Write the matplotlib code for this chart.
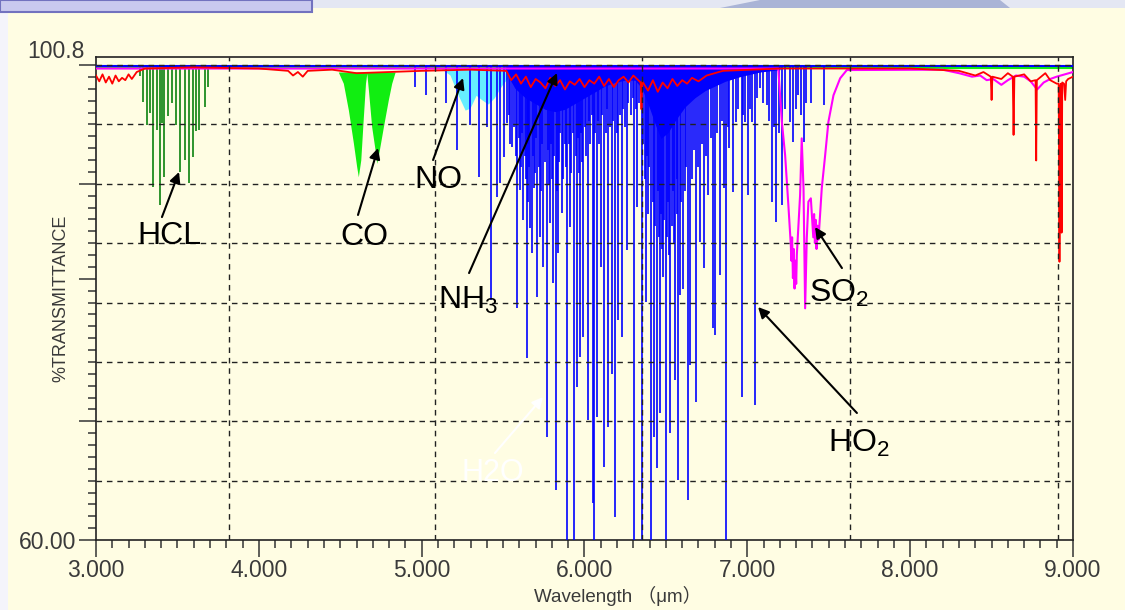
import numpy as np
import matplotlib
matplotlib.use("Agg")
import matplotlib.pyplot as plt
from matplotlib.patches import Rectangle, Polygon
from matplotlib.transforms import blended_transform_factory

plt.rcParams['mathtext.fontset'] = 'custom'
plt.rcParams['mathtext.rm'] = 'Liberation Sans'

# --- data (wavelength in um, %T) ---
hcl_wl = [3.270, 3.291, 3.315, 3.332, 3.352, 3.373, 3.393, 3.403, 3.418, 3.444,
          3.465, 3.491, 3.516, 3.547, 3.573, 3.598, 3.614, 3.635, 3.670, 3.690]
hcl_min = [99.9, 97.65, 95.65, 96.65, 90.35, 95.2, 88.8, 95.8, 91.2, 96.4,
           97.5, 95.65, 91.6, 92.6, 90.65, 92.9, 95.1, 95.2, 97.2, 98.9]

co_wl = [4.488, 4.519, 4.550, 4.581, 4.601, 4.611, 4.626, 4.642, 4.655, 4.663,
         4.673, 4.693, 4.714, 4.724, 4.740, 4.765, 4.795, 4.816, 4.837]
co_t = [100.2, 99.23, 96.93, 94.07, 92.06, 91.2, 92.64, 96.36, 99.23, 100.09,
        98.65, 95.5, 93.5, 92.35, 93.5, 95.5, 97.8, 99.23, 100.2]

no_wl = [5.119, 5.174, 5.224, 5.267, 5.297, 5.334, 5.371, 5.408, 5.445, 5.494, 5.543, 5.568]
no_t = [100.5, 99.94, 98.22, 96.93, 97.1, 98.2, 97.8, 97.45, 97.97, 99.08, 99.94, 100.37]

blue_env_wl = [5.512, 5.573, 5.635, 5.696, 5.757, 5.819, 5.880, 5.942, 6.003, 6.065,
               6.126, 6.187, 6.249, 6.310, 6.353, 6.402, 6.440, 6.470, 6.513, 6.556,
               6.617, 6.679, 6.741, 6.802, 6.864, 6.955, 7.078, 7.201]
blue_env_t = [100.3, 98.8, 98.0, 97.5, 97.0, 96.8, 97.0, 97.5, 98.0, 98.5,
              99.0, 99.3, 99.5, 99.5, 98.8, 97.0, 95.5, 94.5, 95.0, 96.0,
              97.2, 98.0, 98.6, 99.0, 99.4, 99.8, 100.2, 100.4]

# strong lines
blue_wl = [4.962, 5.025, 5.150, 5.215, 5.297, 5.353, 5.400, 5.424, 5.461, 5.481,
           5.506, 5.526, 5.553, 5.588, 5.604, 5.625, 5.645, 5.656, 5.666, 5.676,
           5.690, 5.711, 5.727, 5.748, 5.768, 5.789, 5.809, 5.826, 5.840, 5.864,
           5.895, 5.912, 5.936, 5.953, 5.973, 5.993, 6.020, 6.051, 6.059, 6.075,
           6.100, 6.120, 6.147, 6.167, 6.188, 6.208, 6.229, 6.259, 6.305, 6.321,
           6.352, 6.378, 6.410, 6.427, 6.444, 6.464, 6.484, 6.501, 6.526, 6.556,
           6.577, 6.587, 6.607, 6.638, 6.649, 6.686, 6.710, 6.735, 6.761, 6.792,
           6.802, 6.833, 6.857, 6.870, 6.890, 6.911, 6.931, 6.966, 6.987, 7.007,
           7.028, 7.048, 7.079, 7.120, 7.150, 7.177, 7.212, 7.263, 7.283, 7.314,
           7.345, 7.392, 7.468]
blue_min = [98.9, 98.2, 97.5, 93.5, 95.65, 91.2, 95.5, 80.6, 89.49, 90.66,
            92.9, 95.8, 93.8, 79.9, 90.06, 87.48, 75.6, 89.06, 86.8, 84.62,
            90.2, 80.9, 86.05, 83.47, 68.87, 87.2, 82.05, 64.3, 84.62, 88.06,
            60.0, 86.9, 60.0, 73.16, 75.74, 77.46, 70.3, 63.14, 60.0, 70.6,
            83.47, 66.3, 69.7, 74.3, 62.0, 78.9, 77.46, 84.9, 60.0, 88.6,
            60.0, 80.47, 60.0, 68.87, 66.2, 70.88, 82.6, 60.0, 69.2, 73.74,
            65.15, 81.04, 81.6, 63.43, 75.03, 71.87, 85.62, 83.33, 89.63, 78.18,
            77.6, 82.76, 90.2, 60.0, 93.64, 89.9, 95.93, 72.3, 95.93, 89.63,
            95.93, 71.6, 98.8, 97.36, 89.06, 87.34, 88.77, 95.93, 94.2, 98.2,
            94.2, 97.5, 97.36]

# weaker lines of the dense region
weak_wl = [5.535, 5.545, 5.565, 5.578, 5.595, 5.613, 5.618, 5.632, 5.640, 5.650,
           5.662, 5.683, 5.697, 5.704, 5.718, 5.735, 5.742, 5.755, 5.775, 5.782,
           5.795, 5.802, 5.815, 5.832, 5.846, 5.852, 5.870, 5.878, 5.888, 5.905,
           5.920, 5.928, 5.945, 5.960, 5.966, 5.980, 5.986, 6.005, 6.012, 6.028,
           6.035, 6.043, 6.066, 6.085, 6.092, 6.108, 6.130, 6.138, 6.155, 6.175,
           6.198, 6.215, 6.238, 6.248, 6.270, 6.285, 6.295, 6.315, 6.335,
           6.362, 6.370, 6.385, 6.392, 6.398, 6.418, 6.435, 6.450, 6.458, 6.470,
           6.477, 6.490, 6.508, 6.515, 6.520, 6.535, 6.543, 6.550, 6.565, 6.570,
           6.595, 6.615, 6.625, 6.660, 6.670, 6.695, 6.720, 6.745, 6.775, 6.815,
           6.845, 6.880, 6.940, 6.975, 7.015, 7.060, 7.095, 7.135, 7.165, 7.195,
           7.230, 7.300, 7.330, 7.360]
weak_min = [96.5, 94.0, 95.5, 93.0, 94.5, 92.0, 95.0, 93.0, 91.0, 94.0,
            92.0, 93.0, 91.5, 94.5, 92.0, 90.0, 94.0, 92.5, 93.5, 90.5,
            94.0, 91.0, 93.0, 90.0, 92.5, 95.0, 91.0, 94.0, 92.0, 94.0,
            91.5, 95.0, 93.0, 94.5, 91.5, 95.0, 92.5, 95.5, 93.0, 96.0,
            94.0, 96.5, 95.0, 96.0, 94.0, 96.5, 95.0, 97.0, 95.5, 96.0,
            95.0, 96.5, 97.0, 95.5, 97.5, 96.5, 98.0, 97.0, 97.5,
            94.0, 91.0, 93.0, 88.0, 92.0, 89.0, 87.0, 90.0, 86.0, 88.0,
            85.0, 87.5, 86.0, 89.0, 84.5, 87.0, 90.0, 85.5, 88.0, 91.0,
            89.0, 90.0, 92.0, 91.0, 93.5, 92.0, 94.0, 93.0, 94.5, 95.0,
            96.0, 95.5, 97.0, 96.5, 97.0, 98.0, 97.5, 96.0, 95.5, 95.0,
            97.0, 97.0, 96.5, 97.5]

so2_wl = [3.00, 5.00, 7.190, 7.212, 7.232, 7.252, 7.267, 7.270, 7.275, 7.280,
          7.285, 7.290, 7.294, 7.300, 7.304, 7.324, 7.334, 7.345, 7.355, 7.365,
          7.375, 7.390, 7.405, 7.410, 7.415, 7.420, 7.425, 7.430, 7.437, 7.457,
          7.478, 7.498, 7.529, 7.570, 7.611, 8.20, 8.30, 8.38, 8.43, 8.47,
          8.51, 8.56, 8.60, 8.65, 8.70, 8.74, 8.78, 8.82, 8.86, 8.90, 9.00]
so2_t = [100.5, 100.5, 100.5, 95.93, 93.07, 88.77, 85.34, 84.0, 86.0, 82.5,
         85.0, 81.6, 84.0, 82.0, 84.5, 89.63, 94.5, 90.2, 79.9, 85.9,
         89.06, 89.35, 86.0, 88.0, 85.5, 87.5, 85.0, 87.0, 85.8, 90.2,
         93.07, 95.93, 98.2, 99.66, 100.37, 100.4, 100.1, 99.8, 99.9, 99.5,
         99.6, 99.1, 99.5, 99.9, 99.8, 99.4, 98.7, 99.3, 99.6, 99.8, 100.2]

red_wl = [3.00, 3.02, 3.04, 3.06, 3.08, 3.10, 3.12, 3.14, 3.16, 3.18,
          3.20, 3.22, 3.25, 3.30, 3.60, 4.00, 4.18, 4.21, 4.24, 4.27,
          4.30, 4.45, 4.60, 4.80, 5.00, 5.30, 5.52, 5.55, 5.58, 5.61,
          5.64, 5.67, 5.70, 5.73, 5.76, 5.79, 5.82, 5.85, 5.88, 5.91,
          5.94, 5.97, 6.00, 6.03, 6.06, 6.09, 6.12, 6.15, 6.18, 6.21,
          6.24, 6.27, 6.30, 6.33, 6.345, 6.35, 6.355, 6.39, 6.42, 6.45,
          6.48, 6.51, 6.54, 6.57, 6.60, 6.63, 6.66, 6.70, 6.75, 6.85,
          7.20, 8.00, 8.30, 8.40, 8.45, 8.495, 8.50, 8.505, 8.56, 8.60,
          8.63, 8.635, 8.64, 8.70, 8.74, 8.770, 8.774, 8.778, 8.83, 8.86,
          8.90, 8.912, 8.917, 8.922, 8.926, 8.930, 8.934, 8.945, 8.952, 8.958,
          8.97, 9.00]
red_t = [99.9, 99.4, 100.0, 99.3, 99.8, 99.2, 99.9, 99.4, 99.7, 99.5,
         100.0, 99.6, 100.2, 100.5, 100.6, 100.5, 100.3, 99.9, 100.2, 99.8,
         100.3, 100.4, 100.1, 100.2, 100.3, 100.4, 100.3, 99.5, 100.0, 99.2,
         99.8, 98.9, 99.6, 99.3, 98.8, 99.7, 99.0, 99.5, 98.7, 99.4,
         99.1, 99.6, 98.9, 99.5, 99.2, 99.8, 99.0, 99.6, 98.9, 99.5,
         99.8, 99.3, 99.9, 99.5, 99.3, 97.0, 99.4, 98.6, 99.5, 98.5,
         99.3, 98.8, 99.6, 99.0, 99.5, 99.2, 99.7, 99.4, 99.9, 100.3,
         100.5, 100.5, 100.3, 99.9, 100.2, 99.8, 97.8, 99.8, 99.6, 100.1,
         99.8, 94.8, 99.8, 100.0, 99.4, 99.5, 92.6, 99.5, 100.1, 99.5,
         99.2, 99.2, 83.9, 99.0, 99.2, 86.4, 99.3, 99.2, 97.8, 99.4,
         99.6, 99.8]

blue_base = 100.7
green_base = 100.55
hcl_base = 100.6

grid_x = [3.817, 5.082, 6.352, 7.631, 8.909]
grid_y = [100.8, 95.7, 90.6, 85.5, 80.4, 75.3, 70.2, 65.1]

bg = '#fffde3'
W, H = 1125, 610
fig = plt.figure(figsize=(W / 100, H / 100), dpi=100)
fig.patch.set_facecolor(bg)

# slide decoration around the chart
fig.add_artist(Rectangle((0, 0), 8 / W, 1 - 12 / H, transform=fig.transFigure,
                         facecolor='#f4f4fb', edgecolor='none'))
fig.add_artist(Rectangle((312 / W, 1 - 8 / H), 1 - 312 / W, 8 / H, transform=fig.transFigure,
                         facecolor='#e4e7f3', edgecolor='none'))
fig.add_artist(Polygon([(720 / W, 1 - 8 / H), (760 / W, 1), (1000 / W, 1), (1010 / W, 1 - 8 / H)],
                       closed=True, transform=fig.transFigure, facecolor='#aab4d6', edgecolor='none'))
fig.add_artist(Rectangle((0, 1 - 12 / H), 312 / W, 12 / H, transform=fig.transFigure,
                         facecolor='#c9c9ef', edgecolor='#7272bf', lw=1.5))

ax = fig.add_axes([96 / W, 1 - 540 / H, (1073 - 96) / W, (540 - 57) / H])
ax.set_facecolor(bg)
ax.set_xlim(3, 9)
ax.set_ylim(60, 101.49)

# spectra
ax.fill_between(no_wl, no_t, blue_base, color='#66eeff', lw=0, zorder=2)
ax.fill_between(co_wl, co_t, 100.2, color='#11ee11', lw=0, zorder=2)
ax.axhline(green_base, color='#11ee11', lw=1.5, zorder=2)
ax.vlines(hcl_wl, hcl_min, hcl_base, colors='#1e8c1e', lw=1.3, zorder=2)
ax.fill_between(blue_env_wl, blue_env_t, blue_base, color='#0000ff', lw=0, zorder=3)
ax.vlines(weak_wl, weak_min, blue_base, colors='#0000ff', lw=1.2, zorder=3)
ax.vlines(blue_wl, blue_min, blue_base, colors='#0000ff', lw=1.2, zorder=3)
ax.axhline(blue_base, color='#0000ff', lw=1.5, zorder=3)
ax.plot(so2_wl, so2_t, color='#ff00ff', lw=1.5, zorder=4)
ax.plot(red_wl, red_t, color='#ff0000', lw=1.3, zorder=4)

# grid
for gx in grid_x:
    ax.axvline(gx, color='#222222', lw=1.0, dashes=(4, 3.5), zorder=5)
for gy in grid_y:
    ax.axhline(gy, color='#222222', lw=1.0, dashes=(4, 3.5), zorder=5)

# ticks
tick_font = 'Liberation Sans'
xmaj = [3, 4, 5, 6, 7, 8, 9]
ax.set_xticks(xmaj)
ax.set_xticklabels(['%.3f' % v for v in xmaj], family=tick_font, fontsize=16.5, color='#3a3a3a')
ax.set_xticks(np.arange(3, 9.001, 0.1), minor=True)
ax.set_yticks([60, 70.2, 82.44, 90.6, 100.8])
ax.set_yticklabels(['60.00', '', '', '', ''], family=tick_font, fontsize=16.5, color='#3a3a3a')
ax.set_yticks(np.linspace(60, 100.8, 41), minor=True)
ax.tick_params(which='major', direction='out', length=12, width=1.1, color='#333333', pad=2)
ax.tick_params(which='minor', direction='out', length=6, width=1.1, color='#333333')
trans = blended_transform_factory(ax.transAxes, ax.transData)
ax.text(-0.012, 100.95, '100.8', transform=trans, ha='right', va='bottom',
        family=tick_font, fontsize=16.5, color='#3a3a3a')

for s in ax.spines.values():
    s.set_color('#222222')
    s.set_linewidth(1.2)

ax.set_ylabel('%TRANSMITTANCE', family=tick_font, fontsize=13, color='#3a3a3a')
ax.yaxis.set_label_coords(-0.027, 0.5)
ax.set_xlabel('Wavelength （μm）', family=['Liberation Sans', 'Noto Sans CJK JP'],
              fontsize=13.5, color='#3a3a3a')
ax.xaxis.set_label_coords(0.534, -0.095)

# annotations
lab = dict(family='Liberation Sans', fontsize=23, color='black', zorder=7)
arr = dict(arrowstyle='-|>', color='black', lw=1.5, mutation_scale=16, shrinkA=0, shrinkB=0)
ax.text(3.454, 86.1, 'HCL', ha='center', va='center', **lab)
ax.annotate('', xy=(3.510, 91.61), xytext=(3.405, 87.74), arrowprops=arr, zorder=7)
ax.text(4.646, 86.0, 'CO', ha='center', va='center', **lab)
ax.annotate('', xy=(4.732, 93.67), xytext=(4.609, 87.92), arrowprops=arr, zorder=7)
ax.text(5.100, 90.9, 'NO', ha='center', va='center', **lab)
ax.annotate('', xy=(5.254, 99.68), xytext=(5.070, 92.64), arrowprops=arr, zorder=7)
ax.text(5.100, 79.84, r'NH$_\mathrm{3}$', ha='left', va='baseline', **lab)
ax.annotate('', xy=(5.831, 100.11), xytext=(5.291, 82.93), arrowprops=arr, zorder=7)
ax.text(7.379, 80.44, r'SO$_\mathrm{2}$', ha='left', va='baseline', **lab)
ax.annotate('', xy=(7.416, 86.88), xytext=(7.581, 83.36), arrowprops=arr, zorder=7)
ax.text(7.496, 67.56, r'HO$_\mathrm{2}$', ha='left', va='baseline', **lab)
ax.annotate('', xy=(7.066, 80.01), xytext=(7.673, 70.91), arrowprops=arr, zorder=7)
ax.text(5.438, 65.75, 'H2O', ha='center', va='center', family='Liberation Sans',
        fontsize=22, color='white', zorder=7)
ax.annotate('', xy=(5.745, 72.28), xytext=(5.450, 67.47),
            arrowprops=dict(arr, color='white'), zorder=7)

fig.savefig('out.png', dpi=100, facecolor=bg)
